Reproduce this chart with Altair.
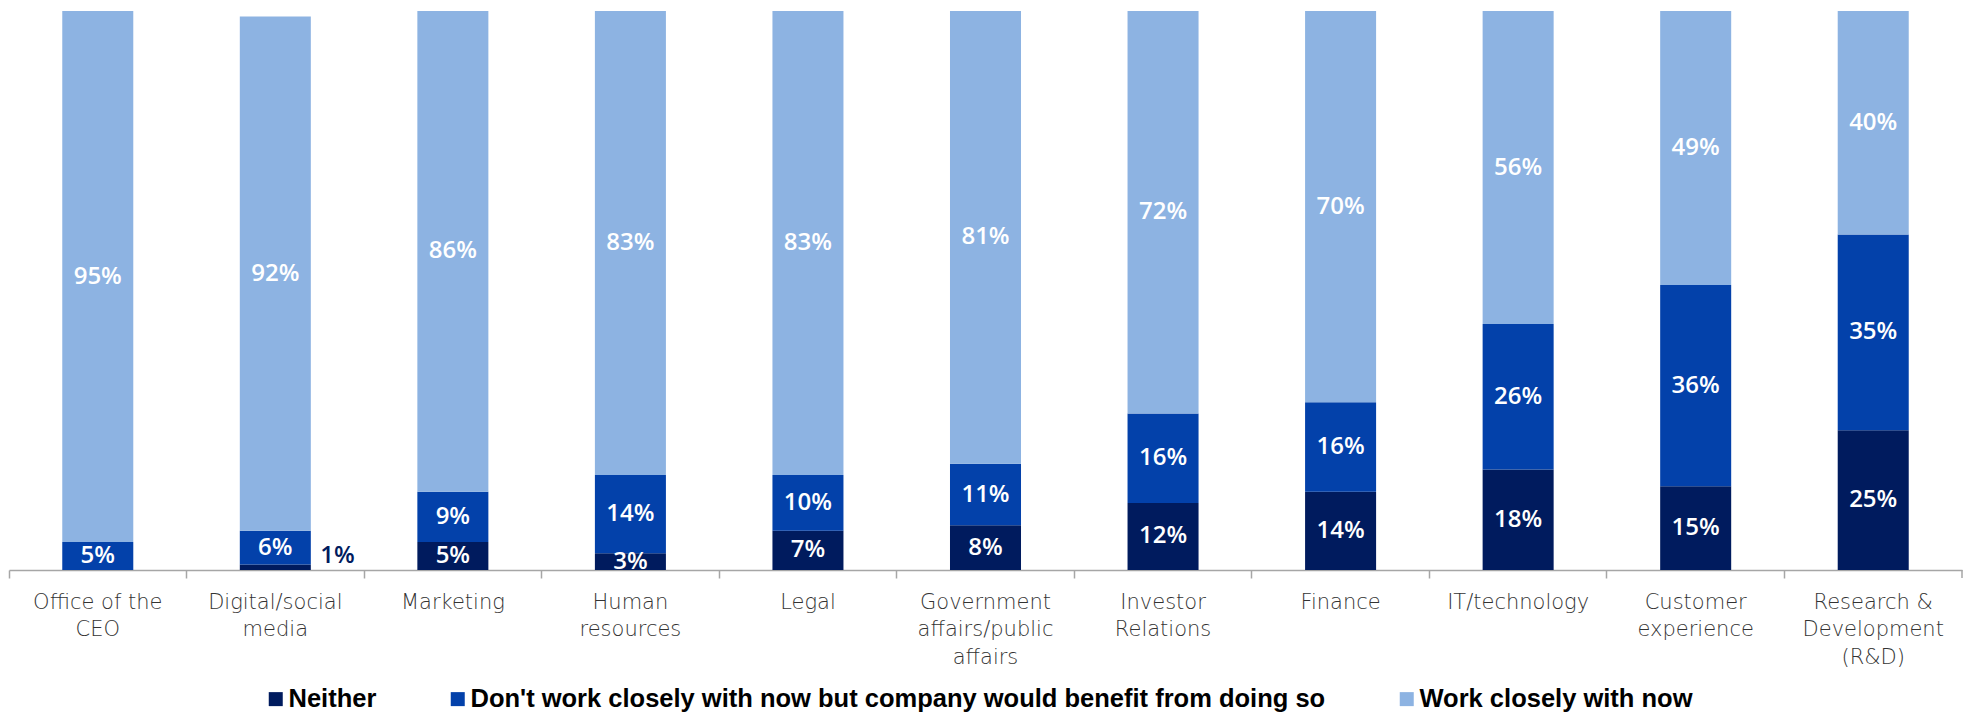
import altair as alt
import pandas as pd

categories = [
    "Office of the|CEO", "Digital/social|media", "Marketing", "Human|resources",
    "Legal", "Government|affairs/public|affairs", "Investor|Relations", "Finance",
    "IT/technology", "Customer|experience", "Research &|Development|(R&D)",
]
series = [
    "Neither",
    "Don't work closely with now but company would benefit from doing so",
    "Work closely with now",
]
neither = [0, 1, 5, 3, 7, 8, 12, 14, 18, 15, 25]
dont_work = [5, 6, 9, 14, 10, 11, 16, 16, 26, 36, 35]
work_closely = [95, 92, 86, 83, 83, 81, 72, 70, 56, 49, 40]
colors = ["#001B5E", "#0341AA", "#8DB3E2"]

rows = []
for i, c in enumerate(categories):
    for k, (s, vals) in enumerate(zip(series, [neither, dont_work, work_closely])):
        rows.append({"cat": c, "series": s, "ord": k, "value": vals[i]})
df = pd.DataFrame(rows)

W, H = 1953, 559

x_enc = alt.X(
    "cat:N", sort=categories, title=None,
    scale=alt.Scale(paddingInner=0, paddingOuter=0),
    axis=alt.Axis(
        bandPosition=0, labelAngle=0, labelAlign="center",
        labelBaseline="top", labelExpr="split(datum.label, '|')",
        labelLineHeight=27.5, labelFont="DejaVu Sans", labelFontWeight=300,
        labelFontSize=21, labelColor="#333333", labelPadding=13,
        labelOverlap=False, tickSize=8, tickColor="#A6A6A6", tickWidth=1.5,
        domainColor="#A6A6A6", domainWidth=1.5, grid=False,
    ),
)
y_scale = alt.Scale(domain=[0, 100], nice=False)

base = alt.Chart(df)

bars = base.mark_bar(width=alt.RelativeBandSize(0.4)).encode(
    x=x_enc,
    y=alt.Y("value:Q", stack="zero", scale=y_scale, axis=None),
    color=alt.Color(
        "series:N",
        scale=alt.Scale(domain=series, range=colors),
        legend=alt.Legend(
            title=None, orient="none", legendX=254, legendY=675,
            direction="horizontal", symbolType="square", symbolSize=196,
            symbolStrokeWidth=0, labelFont="Liberation Sans", labelFontWeight="bold",
            labelFontSize=25.5, labelColor="#000000", labelOffset=0,
            columnPadding=68, padding=0, labelLimit=2000,
        ),
    ),
    order=alt.Order("ord:Q"),
)

stacked = base.transform_stack(
    stack="value", groupby=["cat"], sort=[alt.SortField("ord")], as_=["v0", "v1"]
).transform_calculate(
    mid="(datum.v0 + datum.v1) / 2", label="format(datum.value, 'd') + '%'"
)

labels_in = stacked.transform_filter("datum.value >= 2").mark_text(
    font="Open Sans", fontWeight=600, fontSize=24, color="#FFFFFF", baseline="middle"
).encode(
    x=alt.X("cat:N", sort=categories),
    y=alt.Y("mid:Q", scale=y_scale),
    text="label:N",
)

labels_out = stacked.transform_filter("datum.value > 0 && datum.value < 2").mark_text(
    font="Open Sans", fontWeight=600, fontSize=24, color="#001B5E",
    baseline="middle", align="left", dx=45, dy=-11,
).encode(
    x=alt.X("cat:N", sort=categories),
    y=alt.Y("mid:Q", scale=y_scale),
    text="label:N",
)

end_tick = alt.Chart(pd.DataFrame({"a": [0]})).mark_rule(
    color="#A6A6A6", strokeWidth=1.5
).encode(x=alt.value(W), y=alt.value(H), y2=alt.value(H + 8))

chart = alt.layer(bars, labels_in, labels_out, end_tick).properties(
    width=W, height=H,
    padding={"left": 9, "top": 11, "right": 5, "bottom": 142},
    autosize=alt.AutoSizeParams(type="none"),
).configure_view(stroke="transparent")

chart.save("out.html", embed_options={"renderer": "svg", "actions": False})
